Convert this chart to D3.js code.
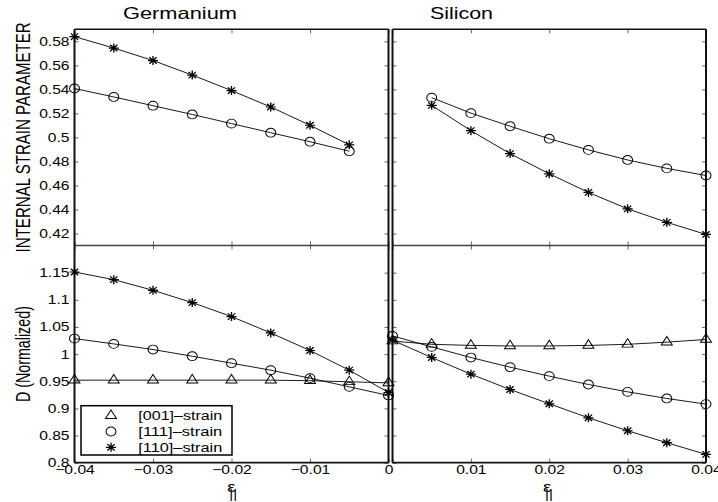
<!doctype html>
<html lang="en">
<head>
<meta charset="UTF-8">
<title>Internal strain parameter and D</title>
<style>
  body { margin: 0; background: #fff; }
  svg { display: block; font-family: "Liberation Sans", Arial, Helvetica, sans-serif; }
</style>
</head>
<body>
<div class="chart"></div>
<script src="https://d3js.org/d3.v7.min.js"></script>
<script>
(function () {
  // strain values
  const geStrainInt = [-0.04, -0.035, -0.03, -0.025, -0.02, -0.015, -0.01, -0.005]
  const siStrainInt = [0.005, 0.01, 0.015, 0.02, 0.025, 0.03, 0.035, 0.04]
  const geStrainD = [-0.04, -0.035, -0.03, -0.025, -0.02, -0.015, -0.01, -0.005, 0]
  const siStrainD = [0, 0.005, 0.01, 0.015, 0.02, 0.025, 0.03, 0.035, 0.04]

  // internal strain parameter
  const geInt111 = [0.5407, 0.5337, 0.5264, 0.5191, 0.5115, 0.5039, 0.4964, 0.4885]
  const geInt110 = [0.5839, 0.5744, 0.5640, 0.5519, 0.5390, 0.5253, 0.5101, 0.4938]
  const siInt111 = [0.5331, 0.5202, 0.5093, 0.4989, 0.4896, 0.4812, 0.4742, 0.4683]
  const siInt110 = [0.5267, 0.5056, 0.4865, 0.4697, 0.4542, 0.4405, 0.4293, 0.4192]

  // D (normalized)
  const geD001 = [0.952, 0.952, 0.952, 0.952, 0.952, 0.952, 0.951, 0.949, 0.947]
  const geD111 = [1.0286, 1.0188, 1.0084, 0.9961, 0.9833, 0.9704, 0.9557, 0.9397, 0.9238]
  const geD110 = [1.1512, 1.1371, 1.1175, 1.0948, 1.0691, 1.0390, 1.0066, 0.9704, 0.9293]
  const siD001 = [1.024, 1.018, 1.016, 1.015, 1.015, 1.016, 1.018, 1.022, 1.027]
  const siD111 = [1.0335, 1.0133, 0.9937, 0.9759, 0.9594, 0.9440, 0.9305, 0.9183, 0.9079]
  const siD110 = [1.0256, 0.9937, 0.9630, 0.9348, 0.9085, 0.8827, 0.8588, 0.8368, 0.8153]

  // ticks and labels
  const geTicks = [-0.04, -0.03, -0.02, -0.01, 0]
  const siTicks = [0, 0.01, 0.02, 0.03, 0.04]
  const siTickLabels = [0.01, 0.02, 0.03, 0.04]
  const intTicks = [0.42, 0.44, 0.46, 0.48, 0.5, 0.52, 0.54, 0.56, 0.58]
  const dTicks = [0.8, 0.85, 0.9, 0.95, 1, 1.05, 1.1, 1.15]
  const legendLabels = ['[001]–strain', '[111]–strain', '[110]–strain']
  const legendKeys = ['001', '111', '110']

  const width = 718
  const height = 502
  const sx = 1.25   // the figure is stretched sideways, text too
  const fontFamily = '"Liberation Sans", Arial, Helvetica, sans-serif'

  const xGe = d3.scaleLinear().domain([-0.04, 0]).range([74.5, 388.5])
  const xSi = d3.scaleLinear().domain([0, 0.04]).range([392.5, 706])
  const yInt = d3.scaleLinear().domain([0.41, 0.59]).range([245.5, 29.3])
  const yD = d3.scaleLinear().domain([0.8, 1.2]).range([462.7, 245.5])

  const svg = d3.select('.chart')
    .append('svg')
    .attr('width', width)
    .attr('height', height)

  // text squeezed to a measured width
  const fitText = (g, x, y, str, size, len) => g.append('text')
    .attr('x', x)
    .attr('y', y)
    .attr('font-size', size)
    .attr('font-family', fontFamily)
    .attr('textLength', len)
    .attr('lengthAdjust', 'spacingAndGlyphs')
    .attr('fill', '#000')
    .text(str)

  const asterisk = {
    draw (ctx, size) {
      const r = Math.sqrt(size) / 2
      const d = r * 0.72
      ctx.moveTo(-r, 0); ctx.lineTo(r, 0)
      ctx.moveTo(0, -r); ctx.lineTo(0, r)
      ctx.moveTo(-d, -d); ctx.lineTo(d, d)
      ctx.moveTo(-d, d); ctx.lineTo(d, -d)
    }
  }
  const symbols = {
    '001': d3.symbol(d3.symbolTriangle, 42),
    '111': d3.symbol(d3.symbolCircle, 62),
    '110': d3.symbol(asterisk, 81)
  }

  const fmt = d3.format('~g')

  // tick marks and labels of one panel
  const axes = (x, y, xVals, yVals, xLabels, yLabels) => {
    const [x0, x1] = x.range()
    const [y1, y0] = y.range()
    const g = svg.append('g')

    g.append('g').attr('transform', `translate(${x0},0)`)
      .call(d3.axisLeft(y).tickValues(yVals).tickSize(-4).tickPadding(4)
        .tickFormat(v => yLabels && yLabels.includes(v) ? fmt(v) : ''))
    g.append('g').attr('transform', `translate(${x1},0)`)
      .call(d3.axisRight(y).tickValues(yVals).tickSize(-4).tickFormat(''))
    g.append('g').attr('transform', `translate(0,${y1})`)
      .call(d3.axisBottom(x).tickValues(xVals).tickSize(-4).tickPadding(2)
        .tickFormat(v => xLabels && xLabels.includes(v) ? fmt(v) : ''))
    g.append('g').attr('transform', `translate(0,${y0})`)
      .call(d3.axisTop(x).tickValues(xVals).tickSize(-4).tickFormat(''))

    g.selectAll('.domain').remove()
    g.selectAll('.tick line').attr('stroke', '#666')
    g.selectAll('.tick text')
      .attr('fill', '#000')
      .attr('font-size', 12.5)
      .attr('font-family', fontFamily)
      .attr('transform', `scale(${sx},1)`)
  }

  axes(xGe, yInt, geTicks, intTicks, null, intTicks)
  axes(xSi, yInt, siTicks, intTicks, null, null)
  axes(xGe, yD, geTicks, dTicks, geTicks, dTicks)
  axes(xSi, yD, siTicks, dTicks, siTickLabels, null)

  // panel frames
  const frame = svg.append('g').attr('fill', 'none')
  ;[xGe, xSi].forEach(x => {
    const [x0, x1] = x.range()
    frame.append('line').attr('x1', x0).attr('x2', x1)
      .attr('y1', yInt.range()[1]).attr('y2', yInt.range()[1])
      .attr('stroke', '#111').attr('stroke-width', 1.5)
    frame.append('line').attr('x1', x0).attr('x2', x1)
      .attr('y1', yInt.range()[0]).attr('y2', yInt.range()[0])
      .attr('stroke', '#444').attr('stroke-width', 1.5)
    frame.append('line').attr('x1', x0).attr('x2', x1)
      .attr('y1', yD.range()[0]).attr('y2', yD.range()[0])
      .attr('stroke', '#111').attr('stroke-width', 1.8)
    ;[x0, x1].forEach(xv => {
      frame.append('line').attr('x1', xv).attr('x2', xv)
        .attr('y1', yInt.range()[1]).attr('y2', yD.range()[0])
        .attr('stroke', '#111').attr('stroke-width', 2)
    })
  })

  // data series
  const draw = (x, y, xs, ys, key) => {
    const pts = d3.zip(xs, ys)
    const line = d3.line().x(d => x(d[0])).y(d => y(d[1]))
    svg.append('path')
      .attr('d', line(pts))
      .attr('fill', 'none')
      .attr('stroke', '#000')
      .attr('stroke-width', 0.9)
    svg.append('g')
      .selectAll('path')
      .data(pts)
      .enter()
      .append('path')
      .attr('d', symbols[key]())
      .attr('transform', d => `translate(${x(d[0])},${y(d[1])}) scale(1.12,1)`)
      .attr('fill', 'none')
      .attr('stroke', '#000')
      .attr('stroke-width', key === '110' ? 1.2 : 0.9)
  }

  draw(xGe, yInt, geStrainInt, geInt111, '111')
  draw(xGe, yInt, geStrainInt, geInt110, '110')
  draw(xSi, yInt, siStrainInt, siInt111, '111')
  draw(xSi, yInt, siStrainInt, siInt110, '110')

  draw(xGe, yD, geStrainD, geD001, '001')
  draw(xGe, yD, geStrainD, geD111, '111')
  draw(xGe, yD, geStrainD, geD110, '110')
  draw(xSi, yD, siStrainD, siD001, '001')
  draw(xSi, yD, siStrainD, siD111, '111')
  draw(xSi, yD, siStrainD, siD110, '110')

  // titles
  fitText(svg, 123, 19, 'Germanium', 16.5, 114)
  fitText(svg, 430, 19, 'Silicon', 16.5, 63)

  // y labels
  const yMid = s => (s.range()[0] + s.range()[1]) / 2
  const yLabel = (str, s, len) => svg.append('text')
    .attr('transform', `translate(30,${yMid(s)}) scale(1.3,1) rotate(-90)`)
    .attr('x', -len / 2)
    .attr('font-size', 15)
    .attr('font-family', fontFamily)
    .attr('textLength', len)
    .attr('lengthAdjust', 'spacingAndGlyphs')
    .text(str)
  yLabel('INTERNAL STRAIN PARAMETER', yInt, 230)
  yLabel('D (Normalized)', yD, 96)

  // x labels: epsilon with || subscript
  ;[xGe, xSi].forEach((x, i) => {
    const cx = (x.range()[0] + x.range()[1]) / 2 - (i === 1 ? 2 : 0)
    const t = svg.append('text')
      .attr('transform', `translate(${cx},0) scale(${sx},1)`)
      .attr('font-size', 15)
      .attr('font-family', fontFamily)
    t.append('tspan').attr('x', -3.5).attr('y', 491.7).text('ε')
    t.append('tspan').attr('x', -1.8).attr('y', 498.5).attr('font-size', 12).text('||')
  })

  // legend
  const legend = svg.append('g')
  legend.append('rect')
    .attr('x', 81).attr('y', 405.7)
    .attr('width', 151).attr('height', 49.3)
    .attr('fill', '#fff')
    .attr('stroke', '#000')
    .attr('stroke-width', 1.5)
  legendKeys.forEach((key, i) => {
    const ry = 415.7 + i * 15.8
    legend.append('path')
      .attr('d', symbols[key]())
      .attr('transform', `translate(111,${ry}) scale(1.12,1)`)
      .attr('fill', 'none')
      .attr('stroke', '#000')
      .attr('stroke-width', key === '110' ? 1.2 : 0.9)
    fitText(legend, 138.3, ry + 4.5, legendLabels[i], 12.5, 84)
  })
})()
</script>
</body>
</html>
